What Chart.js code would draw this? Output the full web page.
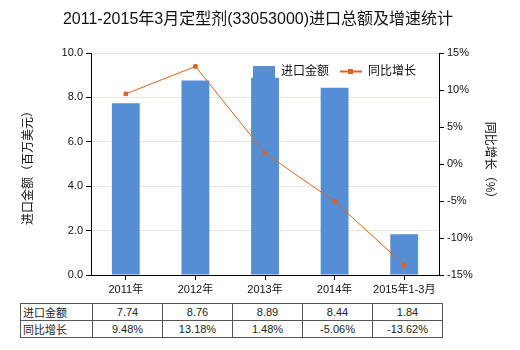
<!DOCTYPE html>
<html>
<head>
<meta charset="utf-8">
<script src="https://cdn.jsdelivr.net/npm/chart.js@4"></script>
<style>
  body { margin: 0; background: #fff; }
  #wrap { position: relative; width: 520px; height: 350px; }
  #chart { position: absolute; left: 0; top: 0; }
  #dataTable {
    position: absolute; left: 20px; top: 303px;
    border-collapse: collapse;
    font: 11px "Liberation Sans", "Noto Sans CJK SC", sans-serif;
    color: #222;
  }
  #dataTable td {
    border: 1px solid #555;
    height: 16px; padding: 0;
    text-align: center; width: 69px;
  }
  #dataTable td.head { text-align: left; width: 69px; padding-left: 2px; }
</style>
</head>
<body>
<div id="wrap">
  <canvas id="chart" width="520" height="300"></canvas>
  <table id="dataTable"></table>
</div>
<script>
"use strict";

const FONT = '"Liberation Sans", "Noto Sans CJK SC", sans-serif';

// Chart data
const years = ['2011年', '2012年', '2013年', '2014年', '2015年1-3月'];
const importValue = [7.74, 8.76, 8.89, 8.44, 1.84];     // 百万美元
const yoyGrowth = [9.48, 13.18, 1.48, -5.06, -13.62];   // %
const leftTicks = [0, 2, 4, 6, 8, 10];
const rightTicks = [-15, -10, -5, 0, 5, 10, 15];

const BAR_COLOR = '#558ED5';
const LINE_COLOR = '#E0621E';

// Title, legend and axis titles drawn straight onto the canvas
const decorations = {
  id: 'decorations',
  afterDatasetsDraw(chart) {
    const ctx = chart.ctx;
    ctx.save();
    ctx.fillStyle = '#111';
    ctx.textBaseline = 'middle';

    ctx.font = '16px ' + FONT;
    ctx.textAlign = 'center';
    ctx.fillText('2011-2015年3月定型剂(33053000)进口总额及增速统计', 258, 20);

    // legend
    ctx.font = '12px ' + FONT;
    ctx.textAlign = 'left';
    ctx.fillStyle = BAR_COLOR;
    ctx.fillRect(253, 66, 22, 12);
    ctx.fillStyle = '#111';
    ctx.fillText('进口金额', 281, 72);
    ctx.strokeStyle = LINE_COLOR;
    ctx.lineWidth = 2;
    ctx.beginPath();
    ctx.moveTo(340, 71.5);
    ctx.lineTo(362, 71.5);
    ctx.stroke();
    ctx.fillStyle = LINE_COLOR;
    ctx.fillRect(348, 69, 5, 5);
    ctx.fillStyle = '#111';
    ctx.fillText('同比增长', 368, 72);

    // axis titles
    ctx.textAlign = 'center';
    ctx.save();
    ctx.translate(29, 165);
    ctx.rotate(-Math.PI / 2);
    ctx.fillText('进口金额（百万美元）', 0, 0);
    ctx.restore();
    ctx.save();
    ctx.translate(489, 163);
    ctx.rotate(Math.PI / 2);
    ctx.fillText('同比增长（%）', 0, 0);
    ctx.restore();

    ctx.restore();
  }
};

const ctx = document.getElementById('chart').getContext('2d');
new Chart(ctx, {
  data: {
    labels: years,
    datasets: [
      {
        type: 'line',
        label: '同比增长',
        data: yoyGrowth,
        yAxisID: 'y1',
        borderColor: LINE_COLOR,
        backgroundColor: LINE_COLOR,
        borderWidth: 1,
        tension: 0,
        pointStyle: 'rect',
        pointRadius: 2.5,
        order: 1
      },
      {
        type: 'bar',
        label: '进口金额',
        data: importValue,
        yAxisID: 'y',
        backgroundColor: BAR_COLOR,
        categoryPercentage: 1,
        barPercentage: 0.4,
        order: 2
      }
    ]
  },
  plugins: [decorations],
  options: {
    responsive: false,
    animation: false,
    layout: { padding: { top: 53, left: 0, right: 0, bottom: 0 } },
    plugins: {
      legend: { display: false },
      title: { display: false },
      tooltip: { enabled: false }
    },
    scales: {
      x: {
        grid: { offset: false, drawOnChartArea: false, drawTicks: true, tickLength: 5, tickColor: '#000' },
        border: { color: '#000' },
        ticks: { color: '#111', font: { family: FONT, size: 11 }, padding: 3, maxRotation: 0 },
        afterFit(scale) { scale.height = 25; }
      },
      y: {
        position: 'left',
        min: 0,
        max: 10,
        afterBuildTicks(scale) { scale.ticks = leftTicks.map(v => ({ value: v })); },
        grid: { color: '#e6e6dc', tickColor: '#000', tickLength: 5 },
        border: { color: '#000' },
        ticks: {
          color: '#111', font: { family: FONT, size: 11 }, padding: 3,
          callback: v => v.toFixed(1)
        },
        afterFit(scale) { scale.width = 91; }
      },
      y1: {
        position: 'right',
        min: -15,
        max: 15,
        afterBuildTicks(scale) { scale.ticks = rightTicks.map(v => ({ value: v })); },
        grid: { drawOnChartArea: false, tickColor: '#000', tickLength: 5 },
        border: { color: '#000' },
        ticks: {
          color: '#111', font: { family: FONT, size: 11 }, padding: 3,
          callback: v => v + '%'
        },
        afterFit(scale) { scale.width = 81; }
      }
    }
  }
});

// Data table under the chart
const table = document.getElementById('dataTable');
function addRow(name, values) {
  const tr = document.createElement('tr');
  const th = document.createElement('td');
  th.className = 'head';
  th.textContent = name;
  tr.appendChild(th);
  values.forEach(v => {
    const td = document.createElement('td');
    td.textContent = v;
    tr.appendChild(td);
  });
  table.appendChild(tr);
}
addRow('进口金额', importValue.map(v => v.toFixed(2)));
addRow('同比增长', yoyGrowth.map(v => v.toFixed(2) + '%'));
</script>
</body>
</html>
